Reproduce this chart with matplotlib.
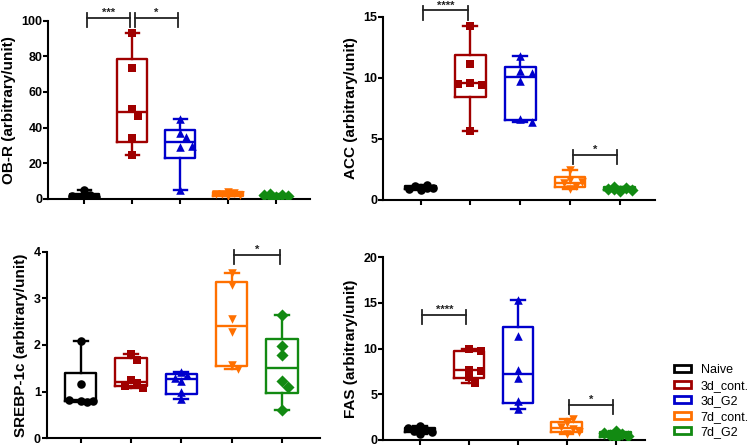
import numpy as np
import matplotlib
matplotlib.use("Agg")
import matplotlib.pyplot as plt
from matplotlib.patches import Patch

plt.rcParams['font.family'] = ['Liberation Sans', 'DejaVu Sans']

groups = ['Naive', '3d_cont.', '3d_G2', '7d_cont.', '7d_G2']
colors = ['#000000', '#A00000', '#0000CC', '#FF7000', '#128A12']
markers = ['o', 's', '^', 'v', 'D']

# data per panel, one list per group
obr = [[0.5, 1.0, 1.5, 2.0, 1.2, 5.0],
       [92.9, 73.3, 50.3, 46.7, 34.4, 24.5],
       [44.9, 36.8, 34.6, 29.3, 29.5, 5.0],
       [1.5, 2.0, 3.0, 3.5, 2.5, 4.0],
       [1.2, 1.8, 2.0, 2.2, 2.5, 1.5]]
acc = [[0.8, 1.0, 1.1, 1.2, 0.9, 1.0],
       [14.2, 11.1, 9.6, 9.4, 9.5, 5.6],
       [11.8, 10.55, 10.4, 9.7, 6.6, 6.4],
       [2.4, 1.65, 1.45, 1.35, 1.15, 0.9],
       [0.7, 0.8, 0.9, 1.0, 1.05, 0.85]]
srebp = [[2.08, 1.16, 0.8, 0.8, 0.82, 0.78],
         [1.8, 1.68, 1.24, 1.18, 1.12, 1.08],
         [1.42, 1.35, 1.3, 1.22, 0.99, 0.85],
         [3.55, 3.28, 2.55, 2.28, 1.58, 1.48],
         [2.64, 1.97, 1.78, 1.23, 1.1, 0.61]]
fas = [[0.7, 0.9, 1.0, 1.1, 1.3, 1.5],
       [9.9, 9.7, 7.7, 7.5, 6.9, 6.2],
       [15.3, 11.4, 7.6, 6.8, 4.3, 3.4],
       [0.7, 0.9, 1.2, 1.4, 1.9, 2.3],
       [0.2, 0.4, 0.5, 0.6, 0.8, 1.0]]

panels = [
    dict(data=obr, ylabel='OB-R (arbitrary/unit)', ylim=100, yticks=[0, 20, 40, 60, 80, 100],
         rect=[0.064, 0.556, 0.346, 0.398], xlim=(-0.75, 4.7),
         sig=[(0, 1, 101.5, '***'), (1, 2, 101.5, '*')]),
    dict(data=acc, ylabel='ACC (arbitrary/unit)', ylim=15, yticks=[0, 5, 10, 15],
         rect=[0.507, 0.554, 0.359, 0.409], xlim=(-0.75, 4.7),
         sig=[(0, 1, 15.5, '****'), (3, 4, 3.7, '*')]),
    dict(data=srebp, ylabel='SREBP-1c (arbitrary/unit)', ylim=4, yticks=[0, 1, 2, 3, 4],
         rect=[0.062, 0.022, 0.361, 0.416], xlim=(-0.67, 4.75),
         sig=[(3, 4, 3.93, '*')]),
    dict(data=fas, ylabel='FAS (arbitrary/unit)', ylim=20, yticks=[0, 5, 10, 15, 20],
         rect=[0.507, 0.018, 0.346, 0.408], xlim=(-0.75, 4.6),
         sig=[(0, 1, 13.7, '****'), (3, 4, 3.83, '*')]),
]


def swarm(ax, x0, vals, dist=6.5, step=6.0, nmax=2):
    # simple beeswarm in pixels; points may overlap once the spread is used up
    tr = ax.transData
    placed = []
    xs = []
    cands = [0.0]
    for i in range(1, nmax + 1):
        cands += [i * step, -i * step]
    for v in vals:
        px, py = tr.transform((x0, v))
        best, best_d = 0.0, -1
        for dx in cands:
            d = min([np.hypot(px + dx - qx, py - qy) for qx, qy in placed] or [1e9])
            if d >= dist:
                best = dx
                break
            if d > best_d:
                best, best_d = dx, d
        placed.append((px + best, py))
        xs.append(tr.inverted().transform((px + best, py))[0])
    return xs


fig = plt.figure(figsize=(7.56, 4.48), dpi=100)
lw = 1.7
for p in panels:
    ax = fig.add_axes(p['rect'])
    ax.set_xlim(*p['xlim'])
    ax.set_ylim(0, p['ylim'])
    for i, vals in enumerate(p['data']):
        v = np.array(vals)
        q1, med, q3 = np.percentile(v, [25, 50, 75], method='weibull')
        st = dict(med=med, q1=q1, q3=q3, whislo=v.min(), whishi=v.max(), fliers=[])
        c = colors[i]
        ax.bxp([st], positions=[i], widths=0.62, showfliers=False,
               boxprops=dict(color=c, lw=lw), medianprops=dict(color=c, lw=lw),
               whiskerprops=dict(color=c, lw=lw), capprops=dict(color=c, lw=lw),
               capwidths=0.28)
        xs = swarm(ax, i, vals)
        ax.scatter(xs, vals, marker=markers[i], s=38, color=c, zorder=5, linewidths=0)
    for a, b, y, lab in p['sig']:
        x1, x2 = a + 0.05, b - 0.05
        h = p['ylim'] * 0.025
        ax.plot([x1, x2], [y, y], color='#222222', lw=1.3, clip_on=False)
        ax.plot([x1, x1], [y - 2 * h, y + h], color='#222222', lw=1.3, clip_on=False)
        ax.plot([x2, x2], [y - 2 * h, y + h], color='#222222', lw=1.3, clip_on=False)
        ax.text((x1 + x2) / 2, y, lab, ha='center', va='bottom', fontsize=8,
                fontweight='bold', color='#222222')
    ax.set_xticks(range(5))
    ax.set_xticklabels([])
    ax.set_yticks(p['yticks'])
    ax.set_yticklabels([str(t) for t in p['yticks']], fontsize=9, fontweight='bold')
    ax.set_ylabel(p['ylabel'], fontsize=11, fontweight='bold', labelpad=4)
    for s in ['top', 'right']:
        ax.spines[s].set_visible(False)
    for s in ['left', 'bottom']:
        ax.spines[s].set_linewidth(1.5)
    ax.tick_params(width=1.5, length=3.8, pad=0.5)

handles = [Patch(facecolor='white', edgecolor=c, lw=2) for c in colors]
fig.legend(handles, groups, loc='lower left', bbox_to_anchor=(0.892, 0.022), frameon=False,
           fontsize=9, handlelength=1.3, handleheight=0.45, labelspacing=0.28,
           handletextpad=0.8, borderaxespad=0, borderpad=0)
fig.savefig('out.png', dpi=100)
